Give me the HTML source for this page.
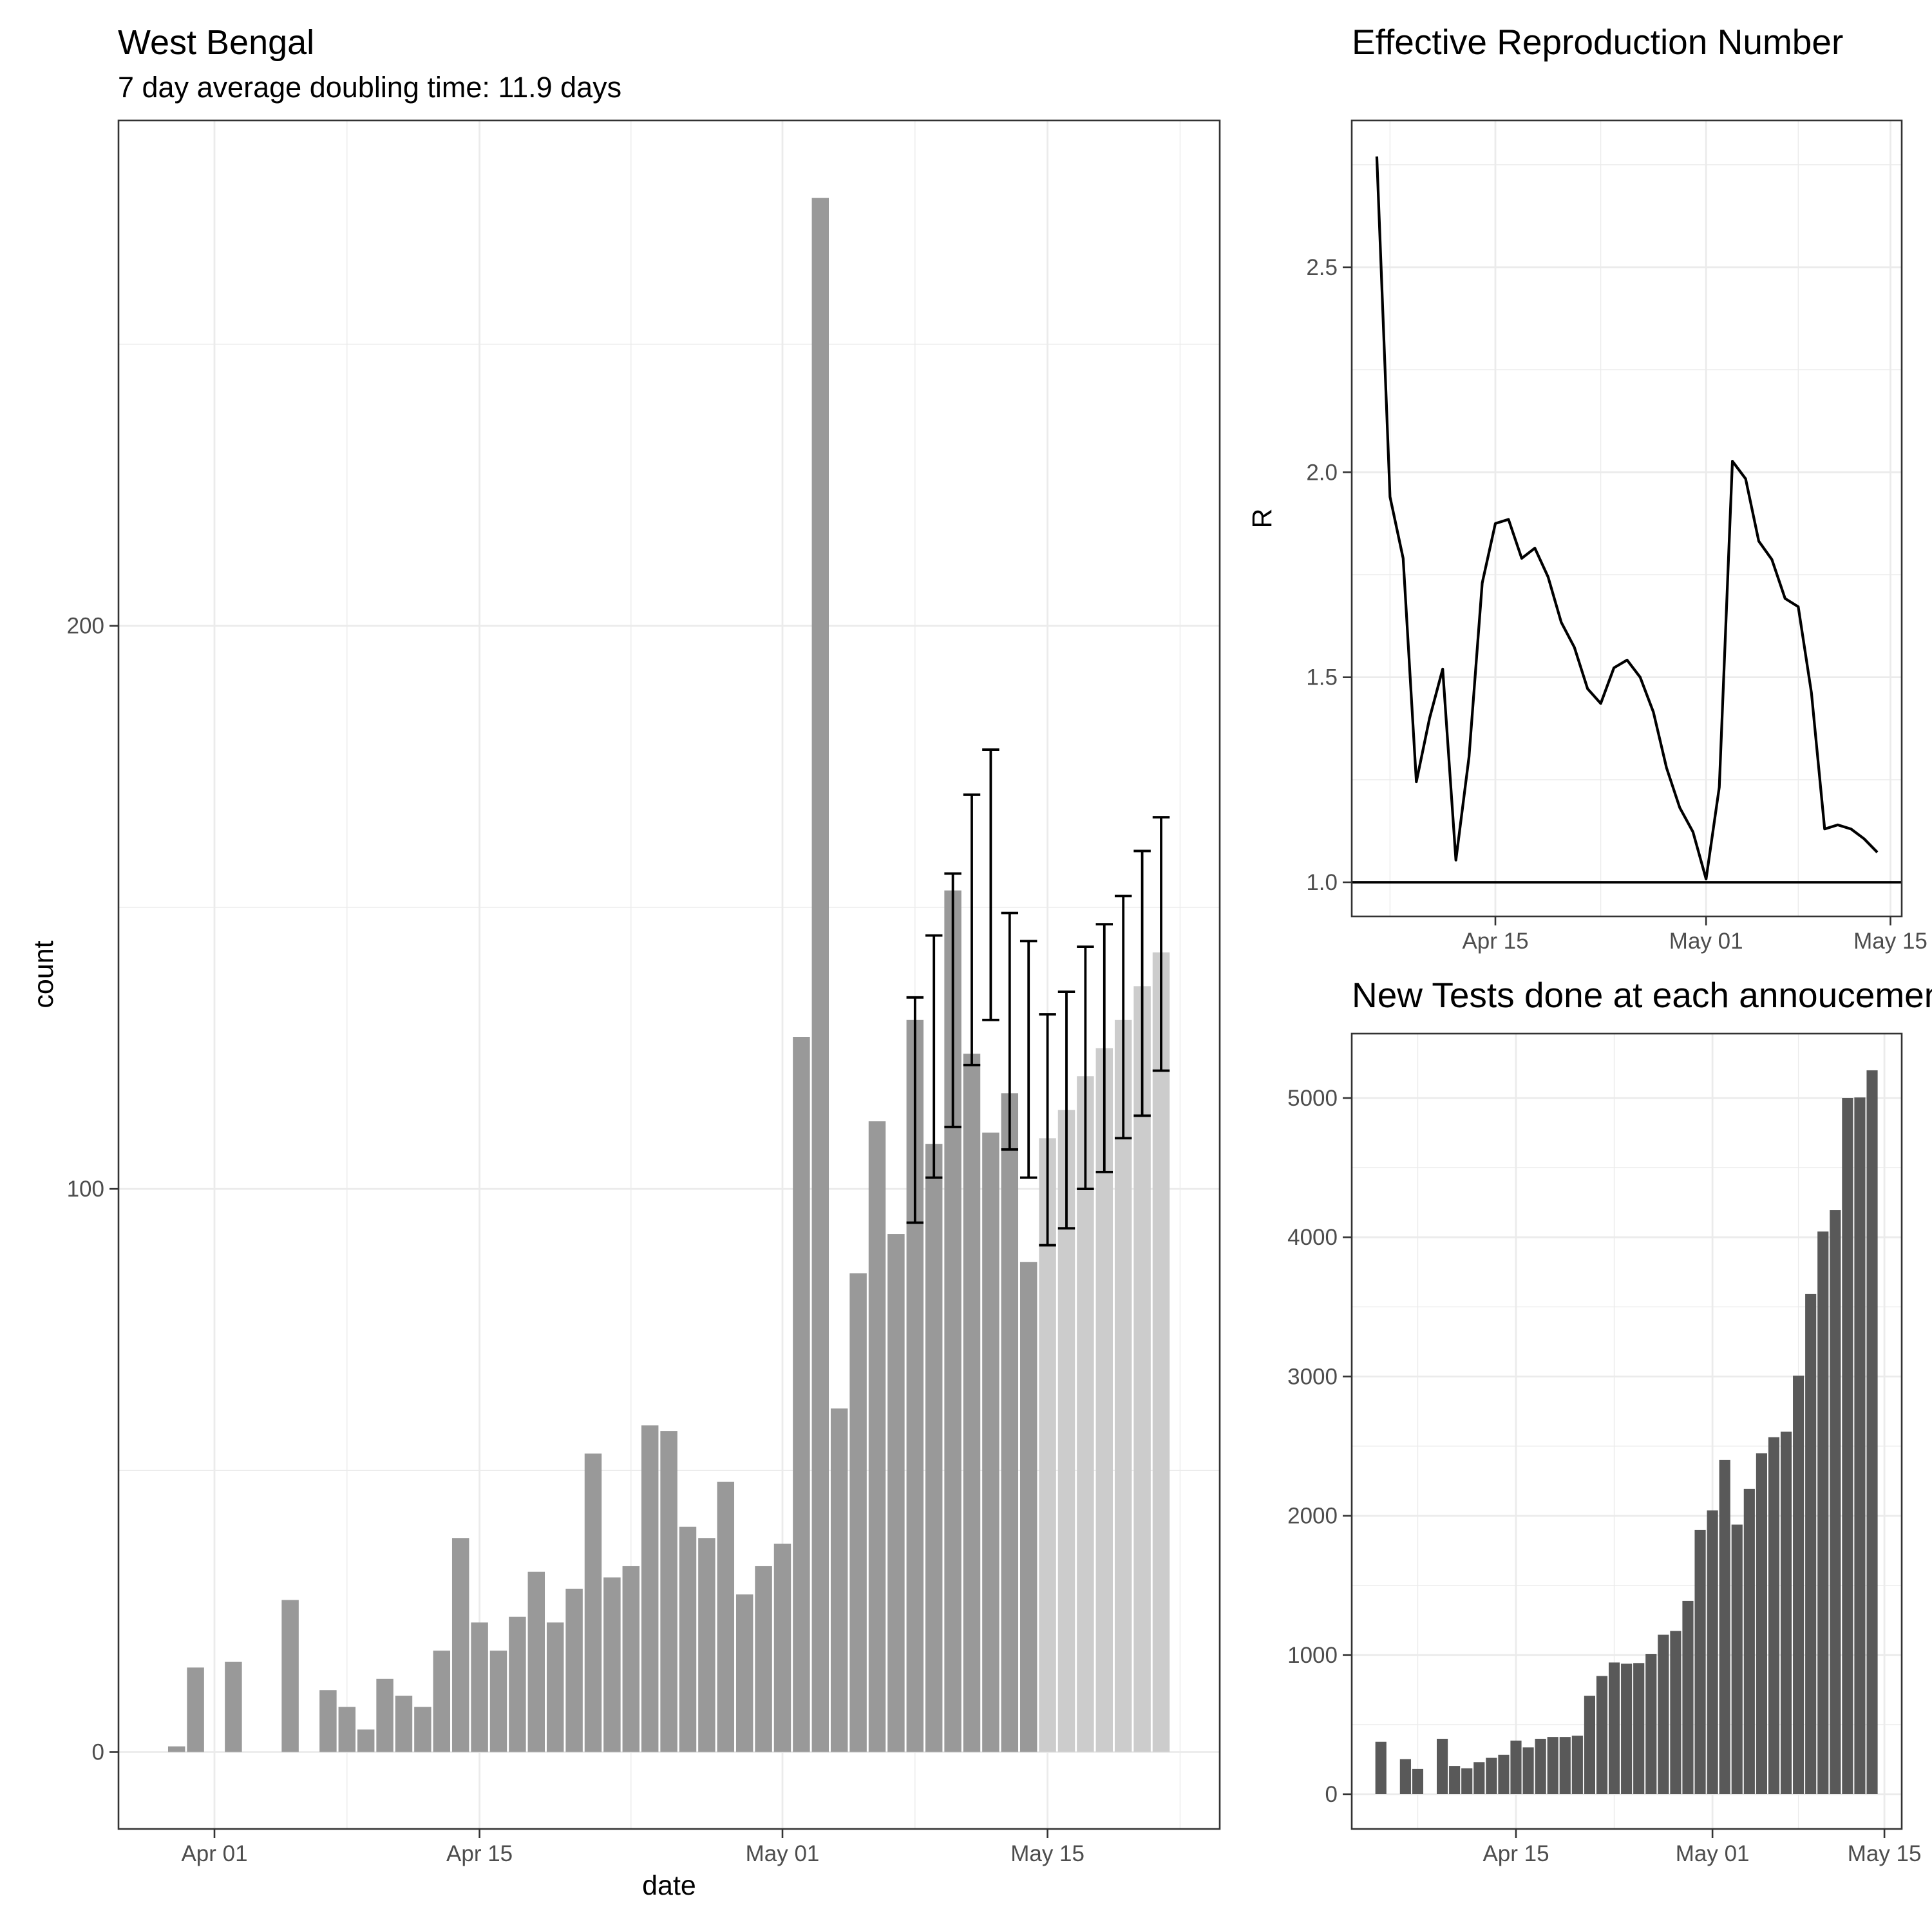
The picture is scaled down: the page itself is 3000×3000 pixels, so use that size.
<!DOCTYPE html>
<html><head><meta charset="utf-8">
<style>
html,body{margin:0;padding:0;background:#fff;}
svg{display:block;font-family:"Liberation Sans",sans-serif;}
</style></head>
<body>
<svg id="chart" width="3000" height="3000" viewBox="0 0 3000 3000" xmlns="http://www.w3.org/2000/svg">
<rect width="3000" height="3000" fill="#fff"/>
<text x="183" y="84" font-size="54" fill="#000">West Bengal</text>
<text x="183" y="151" font-size="45" fill="#000">7 day average doubling time: 11.9 days</text>
<text x="2099" y="84" font-size="55" fill="#000">Effective Reproduction Number</text>
<text x="2099" y="1564" font-size="55" fill="#000">New Tests done at each annoucement</text>
<g id="main"></g>
<g id="rchart"></g>
<g id="tchart"></g>
</svg>
<script>
// ---- Cases chart data ----
const caseDates = ["2020-03-30","2020-03-31","2020-04-01","2020-04-02","2020-04-03","2020-04-04","2020-04-05","2020-04-06","2020-04-07","2020-04-08","2020-04-09","2020-04-10","2020-04-11","2020-04-12","2020-04-13","2020-04-14","2020-04-15","2020-04-16","2020-04-17","2020-04-18","2020-04-19","2020-04-20","2020-04-21","2020-04-22","2020-04-23","2020-04-24","2020-04-25","2020-04-26","2020-04-27","2020-04-28","2020-04-29","2020-04-30","2020-05-01","2020-05-02","2020-05-03","2020-05-04","2020-05-05","2020-05-06","2020-05-07","2020-05-08","2020-05-09","2020-05-10","2020-05-11","2020-05-12","2020-05-13","2020-05-14"];
const caseCounts = [1,15,0,16,0,0,27,0,11,8,4,13,10,8,18,38,23,18,24,32,23,29,53,31,33,58,57,40,38,48,28,33,37,127,276,61,85,112,92,130,108,153,124,110,117,87];
const predDates = ["2020-05-15","2020-05-16","2020-05-17","2020-05-18","2020-05-19","2020-05-20","2020-05-21"];
const predCounts = [109,114,120,125,130,136,142];
const errDates = ["2020-05-08","2020-05-09","2020-05-10","2020-05-11","2020-05-12","2020-05-13","2020-05-14","2020-05-15","2020-05-16","2020-05-17","2020-05-18","2020-05-19","2020-05-20","2020-05-21"];
const errLow = [94,102,111,122,130,107,102,90,93,100,103,109,113,121];
const errHigh = [134,145,156,170,178,149,144,131,135,143,147,152,160,166];
const caseYTicks = [0,100,200];
const caseYMinor = [50,150,250];
const caseXTicks = ["2020-04-01","2020-04-15","2020-05-01","2020-05-15"];
const caseXTickLabels = ["Apr 01","Apr 15","May 01","May 15"];
const caseXMinor = ["2020-04-08","2020-04-23","2020-05-08","2020-05-22"];

// ---- R chart data ----
const rDates = ["2020-04-06","2020-04-07","2020-04-08","2020-04-09","2020-04-10","2020-04-11","2020-04-12","2020-04-13","2020-04-14","2020-04-15","2020-04-16","2020-04-17","2020-04-18","2020-04-19","2020-04-20","2020-04-21","2020-04-22","2020-04-23","2020-04-24","2020-04-25","2020-04-26","2020-04-27","2020-04-28","2020-04-29","2020-04-30","2020-05-01","2020-05-02","2020-05-03","2020-05-04","2020-05-05","2020-05-06","2020-05-07","2020-05-08","2020-05-09","2020-05-10","2020-05-11","2020-05-12","2020-05-13","2020-05-14"];
const rValues = [2.77,1.94,1.79,1.245,1.40,1.52,1.054,1.306,1.73,1.875,1.885,1.79,1.815,1.745,1.634,1.573,1.472,1.436,1.523,1.542,1.50,1.415,1.279,1.182,1.123,1.008,1.232,2.027,1.984,1.832,1.787,1.692,1.672,1.462,1.130,1.140,1.130,1.106,1.073];
const rYTicks = [1.0,1.5,2.0,2.5];
const rYTickLabels = ["1.0","1.5","2.0","2.5"];
const rYMinor = [1.25,1.75,2.25,2.75];
const rXTicks = ["2020-04-15","2020-05-01","2020-05-15"];
const rXTickLabels = ["Apr 15","May 01","May 15"];
const rXMinor = ["2020-04-07","2020-04-23","2020-05-08"];

// ---- Tests chart data ----
const testDates = ["2020-04-04","2020-04-06","2020-04-07","2020-04-09","2020-04-10","2020-04-11","2020-04-12","2020-04-13","2020-04-14","2020-04-15","2020-04-16","2020-04-17","2020-04-18","2020-04-19","2020-04-20","2020-04-21","2020-04-22","2020-04-23","2020-04-24","2020-04-25","2020-04-26","2020-04-27","2020-04-28","2020-04-29","2020-04-30","2020-05-01","2020-05-02","2020-05-03","2020-05-04","2020-05-05","2020-05-06","2020-05-07","2020-05-08","2020-05-09","2020-05-10","2020-05-11","2020-05-12","2020-05-13","2020-05-14"];
const testValues = [376,252,181,398,203,186,230,261,283,385,336,398,411,411,420,707,849,946,937,942,1008,1145,1172,1388,1897,2038,2401,1936,2193,2449,2564,2604,3006,3594,4041,4195,5000,5004,5199];
const tYTicks = [0,1000,2000,3000,4000,5000];
const tYMinor = [500,1500,2500,3500,4500];
const tXTicks = ["2020-04-15","2020-05-01","2020-05-15"];
const tXTickLabels = ["Apr 15","May 01","May 15"];
const tXMinor = ["2020-04-07","2020-04-23","2020-05-08"];

const NS = "http://www.w3.org/2000/svg";
function day(s){const p=s.split("-");return Date.UTC(+p[0],+p[1]-1,+p[2])/86400000;}
function mk(parent, tag, attrs){const e=document.createElementNS(NS,tag);for(const k in attrs)e.setAttribute(k,attrs[k]);parent.appendChild(e);return e;}

function panel(g, box){
  const bg = mk(g,"rect",{x:box.l,y:box.t,width:box.r-box.l,height:box.b-box.t,fill:"#fff"});
  
  
}
function gridH(g, box, y, major){
  const l = mk(g,"line",{x1:box.l,x2:box.r,y1:y,y2:y,stroke:"#ebebeb","stroke-width":major?2.8:1.4});
  
  
}
function gridV(g, box, x, major){
  const l = mk(g,"line",{x1:x,x2:x,y1:box.t,y2:box.b,stroke:"#ebebeb","stroke-width":major?2.8:1.4});
  
  
}
function border(g, box){
  const r = mk(g,"rect",{x:box.l,y:box.t,width:box.r-box.l,height:box.b-box.t,fill:"none",stroke:"#333","stroke-width":2.6});
  
  
}
function yTick(g, box, y, label){
  const t = mk(g,"line",{x1:box.l-14,x2:box.l,y1:y,y2:y,stroke:"#333","stroke-width":2.6});
  
  
  const tx = mk(g,"text",{x:box.l-22,y:y+12,"font-size":35,fill:"#4d4d4d","text-anchor":"end"});
  tx.textContent = label;
  
  
}
function xTick(g, box, x, label){
  const t = mk(g,"line",{x1:x,x2:x,y1:box.b,y2:box.b+14,stroke:"#333","stroke-width":2.6});
  
  
  const tx = mk(g,"text",{x:x,y:box.b+50,"font-size":35,fill:"#4d4d4d","text-anchor":"middle"});
  tx.textContent = label;
  
  
}

// ===== Cases chart =====
(function(){
  const g = document.getElementById("main");
  const box = {l:184,r:1894,t:187,b:2840};
  const x0 = day("2020-04-01"), px0 = 333, pxd = 29.4;
  const X = d => px0 + (day(d)-x0)*pxd;
  const Y = v => 2720.5 - v*8.744;
  panel(g,box);
  caseYMinor.forEach(v=>gridH(g,box,Y(v),false));
  caseXMinor.forEach(d=>gridV(g,box,X(d),false));
  caseYTicks.forEach(v=>gridH(g,box,Y(v),true));
  caseXTicks.forEach(d=>gridV(g,box,X(d),true));
  const bw = pxd*0.9;
  caseDates.forEach((d,i)=>{
    const v = caseCounts[i]; if(v<=0) return;
    const r = mk(g,"rect",{x:X(d)-bw/2,y:Y(v),width:bw,height:Y(0)-Y(v),fill:"#999999"});
    
    
  });
  predDates.forEach((d,i)=>{
    const v = predCounts[i];
    const r = mk(g,"rect",{x:X(d)-bw/2,y:Y(v),width:bw,height:Y(0)-Y(v),fill:"#cccccc"});
    
    
  });
  const cw = pxd*0.9;
  errDates.forEach((d,i)=>{
    const x = X(d), lo = Y(errLow[i]), hi = Y(errHigh[i]);
    const eg = mk(g,"g",{stroke:"#000","stroke-width":3.8});
    
    
    mk(eg,"line",{x1:x,x2:x,y1:lo,y2:hi});
    mk(eg,"line",{x1:x-cw/2,x2:x+cw/2,y1:lo,y2:lo});
    mk(eg,"line",{x1:x-cw/2,x2:x+cw/2,y1:hi,y2:hi});
  });
  border(g,box);
  caseYTicks.forEach(v=>yTick(g,box,Y(v),String(v)));
  caseXTicks.forEach((d,i)=>xTick(g,box,X(d),caseXTickLabels[i]));
  const xt = mk(g,"text",{x:1039,y:2942,"font-size":43,fill:"#000","text-anchor":"middle"});
  xt.textContent="date";
  
  
  const yt = mk(g,"text",{x:0,y:0,"font-size":43,fill:"#000","text-anchor":"middle",transform:"translate(82,1513) rotate(-90)"});
  yt.textContent="count";
  
  
})();

// ===== R chart =====
(function(){
  const g = document.getElementById("rchart");
  const box = {l:2099,r:2953,t:187,b:1423};
  const x0 = day("2020-04-15"), px0 = 2322, pxd = 20.45;
  const X = d => px0 + (day(d)-x0)*pxd;
  const Y = v => 1370 - (v-1)*636.7;
  panel(g,box);
  rYMinor.forEach(v=>gridH(g,box,Y(v),false));
  rXMinor.forEach(d=>gridV(g,box,X(d),false));
  rYTicks.forEach(v=>gridH(g,box,Y(v),true));
  rXTicks.forEach(d=>gridV(g,box,X(d),true));
  const hl = mk(g,"line",{x1:box.l,x2:box.r,y1:Y(1),y2:Y(1),stroke:"#000","stroke-width":3.8});
  
  
  const pts = rDates.map((d,i)=>X(d).toFixed(1)+","+Y(rValues[i]).toFixed(1)).join(" ");
  const pl = mk(g,"polyline",{points:pts,fill:"none",stroke:"#000","stroke-width":4.2,"stroke-linejoin":"round"});
  
  
  border(g,box);
  rYTicks.forEach((v,i)=>yTick(g,box,Y(v),rYTickLabels[i]));
  rXTicks.forEach((d,i)=>xTick(g,box,X(d),rXTickLabels[i]));
  const yt = mk(g,"text",{x:0,y:0,"font-size":43,fill:"#000","text-anchor":"middle",transform:"translate(1974,805) rotate(-90)"});
  yt.textContent="R";
  
  
})();

// ===== Tests chart =====
(function(){
  const g = document.getElementById("tchart");
  const box = {l:2099,r:2953,t:1605,b:2840};
  const x0 = day("2020-04-15"), px0 = 2354, pxd = 19.07;
  const X = d => px0 + (day(d)-x0)*pxd;
  const Y = v => 2786 - v*0.2162;
  panel(g,box);
  tYMinor.forEach(v=>gridH(g,box,Y(v),false));
  tXMinor.forEach(d=>gridV(g,box,X(d),false));
  tYTicks.forEach(v=>gridH(g,box,Y(v),true));
  tXTicks.forEach(d=>gridV(g,box,X(d),true));
  const bw = pxd*0.9;
  testDates.forEach((d,i)=>{
    const v = testValues[i];
    const r = mk(g,"rect",{x:X(d)-bw/2,y:Y(v),width:bw,height:Y(0)-Y(v),fill:"#595959"});
    
    
  });
  border(g,box);
  tYTicks.forEach(v=>yTick(g,box,Y(v),String(v)));
  tXTicks.forEach((d,i)=>xTick(g,box,X(d),tXTickLabels[i]));
})();
</script>
</body></html>
